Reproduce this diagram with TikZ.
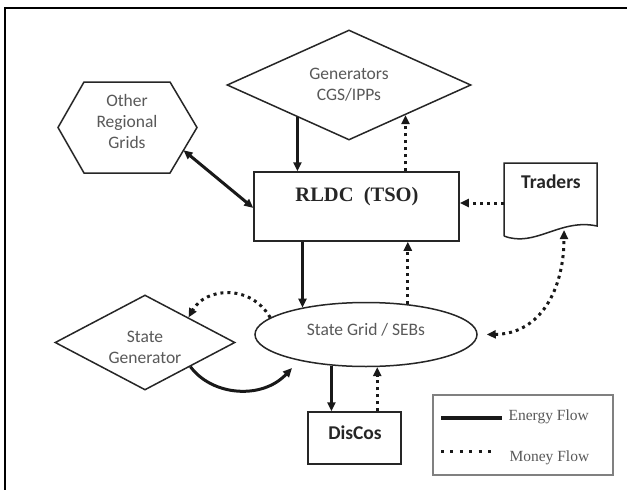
\documentclass[tikz,border=0pt]{standalone}
\usepackage{fontspec}
\setmainfont{Liberation Serif}
\newfontfamily\calfont{Carlito}
\usetikzlibrary{arrows.meta,shapes.geometric,calc}
\begin{document}
\begin{tikzpicture}[x=1pt,y=-1pt,
  shapeline/.style={draw=black!85,line width=1.5pt},
  tipA/.style={-{Triangle[length=9pt,width=8pt]}},
  energy/.style={line width=3pt,draw=black!90,tipA},
  money/.style={line width=3pt,draw=black!90,dash pattern=on 3pt off 4pt,tipA},
  lbl/.style={font=\calfont\fontsize{17.5}{21}\selectfont,text=black!65,align=center},
  blbl/.style={font=\calfont\bfseries\fontsize{19.5}{23}\selectfont,text=black!85},
  leg/.style={font=\fontsize{15.5}{18}\selectfont,text=black!65,anchor=west}]
\useasboundingbox (0,0) rectangle (627,490);
\fill[white] (0,0) rectangle (627,490);
% frame
\draw[line width=1.8pt] (5,490) -- (5,8) -- (627,8);

% Other Regional Grids (hexagon)
\draw[shapeline] (84,82) -- (170,82) -- (197,127.5) -- (170,173) -- (84,173) -- (58,127.5) -- cycle;
\coordinate (hexR) at (197,127.5);
\coordinate (hexBR) at (170,173);
\node[lbl] (org) at (127,121) {Other\\Regional\\Grids};

% Generators diamond
\node[diamond,shapeline,minimum width=244pt,minimum height=110pt,inner sep=0pt,shape aspect=2.2] (gen) at (349,85) {};
\node[lbl] (gent) at (349,84.5) {Generators\\CGS/IPPs};

% RLDC box
\node[rectangle,shapeline,minimum width=205pt,minimum height=69pt,inner sep=0pt] (rldc) at (356.5,206.5) {};
\node[font=\bfseries\fontsize{20.5}{24}\selectfont,text=black!85] (rldct) at (357,197) {RLDC\ \ (TSO)};

% Traders document
\draw[shapeline] (504,236) -- (504,163) -- (597,163) -- (597,226)
   .. controls (560,218) and (535,248) .. (504,236);
\coordinate (tw) at (504,203);
\coordinate (tb) at (564,230);
\node[blbl] (trt) at (551,182) {Traders};

% State Grid ellipse
\node[ellipse,shapeline,minimum width=222pt,minimum height=64pt,inner sep=0pt] (sg) at (366,334.5) {};
\node[lbl] (sgt) at (366,330) {State Grid / SEBs};

% State Generator diamond
\node[diamond,shapeline,minimum width=180pt,minimum height=95pt,inner sep=0pt,shape aspect=2] (sgen) at (145,342.5) {};
\node[lbl] (sgent) at (145,347) {State\\Generator};

% DisCos box
\node[rectangle,shapeline,minimum width=93pt,minimum height=52pt,inner sep=0pt] (dis) at (354.5,438) {};
\node[blbl] (dist) at (355,433) {DisCos};

% legend
\node[rectangle,draw=black!50,line width=1.2pt,minimum width=180pt,minimum height=80pt,inner sep=0pt] (legbox) at (523,435) {};
\coordinate (le1) at (441,418);
\coordinate (le2) at (502,418);
\coordinate (lm1) at (441,451);
\coordinate (lm2) at (494,451);
\draw[line width=3.2pt,black!90] (le1) -- (le2);
\draw[line width=3pt,black!90,dash pattern=on 3pt off 6.4pt] (lm1) -- (lm2);
\node[leg] (legE) at (505,417) {Energy Flow};
\node[leg] (legM) at (506,458) {Money Flow};

% connectors
\coordinate (g1) at ($(gen.west)!0.58!(gen.south)$);
\draw[energy] (g1) -- (g1 |- rldc.north);
\coordinate (g2) at ($(gen.south)!0.46!(gen.east)$);
\draw[money] (g2 |- rldc.north) -- (g2);
\coordinate (hx) at ($(hexR)!0.5!(hexBR)$);
\coordinate (rw) at ($(rldc.north west)!0.52!(rldc.south west)$);
\draw[energy,{Triangle[length=9pt,width=8pt]}-{Triangle[length=9pt,width=8pt]}] (hx) -- (rw);
\draw[money] (tw) -- (tw -| rldc.east);
\draw[energy] (sg.157 |- rldc.south) -- (sg.157);
\draw[money] (sg.36.7) -- (sg.36.7 |- rldc.south);
\draw[energy] (sg.222.7) -- (sg.222.7 |- dis.north);
\draw[money] (sg.289 |- dis.north) -- (sg.289);
\coordinate (sgs) at ($(sgen.north)!0.48!(sgen.east)$);
\draw[money] (sg.170) .. controls (250,283) and (205,288) .. (sgs);
\coordinate (sgb) at ($(sgen.east)!0.5!(sgen.south)$);
\coordinate (sgtip) at (292,368);
\draw[energy] (sgb) .. controls (212,396) and (262,400) .. (sgtip);
\draw[money,{Triangle[length=9pt,width=8pt]}-{Triangle[length=9pt,width=8pt]},shorten <=9pt] (sg.east) .. controls (540,334) and (564,290) .. (tb);
\end{tikzpicture}
\end{document}
